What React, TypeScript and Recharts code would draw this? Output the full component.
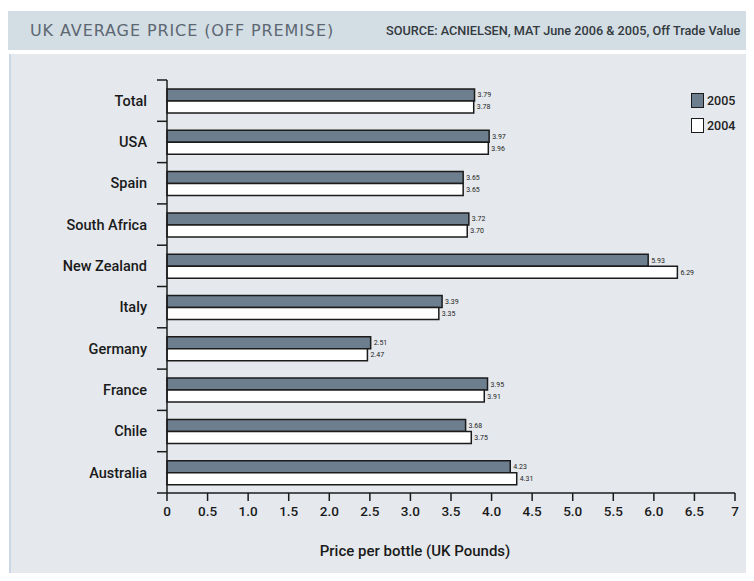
import React from 'react';
import { BarChart, Bar, XAxis, YAxis, Legend, LabelList } from 'recharts';

const categories = ['Total', 'USA', 'Spain', 'South Africa', 'New Zealand', 'Italy', 'Germany', 'France', 'Chile', 'Australia'];
const price2005 = [3.79, 3.97, 3.65, 3.72, 5.93, 3.39, 2.51, 3.95, 3.68, 4.23];
const price2004 = [3.78, 3.96, 3.65, 3.70, 6.29, 3.35, 2.47, 3.91, 3.75, 4.31];
const xTicks = [0, 0.5, 1, 1.5, 2, 2.5, 3, 3.5, 4, 4.5, 5, 5.5, 6, 6.5, 7];
const seriesNames = ['2005', '2004'];

const data = categories.map((c, i) => ({ country: c, y2005: price2005[i], y2004: price2004[i] }));

const FONT = 'Roboto, "Noto Sans", sans-serif';
const COL2005 = '#6d7e8e';
const STROKE = '#1b1b1b';
const TICK_SIZE = 10;
const TICK_MARGIN = 10;

const fmtTick = (v: number) => (v === 0 || v === 7 ? String(v) : v.toFixed(1));

const CatTick = (props: any) => {
  const { x, y, payload, index, visibleTicksCount } = props;
  const half = payload && payload.offset ? payload.offset : 0;
  const x1 = x + TICK_MARGIN;
  const x2 = x1 + TICK_SIZE;
  return (
    <g>
      <text x={x} y={y} dy="0.36em" textAnchor="end" fontSize={14.5} fontWeight={500} fill="#1a1a1a" fontFamily={FONT}>
        {payload.value}
      </text>
      <line x1={x1} x2={x2} y1={y - half} y2={y - half} stroke={STROKE} strokeWidth={1.5} />
      {index === visibleTicksCount - 1 && (
        <line x1={x1} x2={x2} y1={y + half} y2={y + half} stroke={STROKE} strokeWidth={1.5} />
      )}
    </g>
  );
};

const LegendContent = () => (
  <div style={{ fontFamily: FONT, fontSize: 12.5, fontWeight: 500, color: '#222' }}>
    {seriesNames.map((n, i) => (
      <div key={n} style={{ display: 'flex', alignItems: 'center', height: 17, marginBottom: 8 }}>
        <div style={{ width: 11, height: 13, border: `1.5px solid ${STROKE}`, background: i === 0 ? COL2005 : '#fff', marginRight: 3 }} />
        <span>{n}</span>
      </div>
    ))}
  </div>
);

export default function App() {
  return (
    <div style={{ position: 'relative', width: 754, height: 581, margin: -8, background: '#fff', overflow: 'hidden' }}>
      <div style={{ position: 'absolute', left: 8, top: 11, width: 746, height: 39, background: '#d3dde4' }} />
      <div style={{ position: 'absolute', left: 30, top: 21, fontFamily: '"DejaVu Sans", sans-serif', fontSize: 16, letterSpacing: 0.9, color: '#5c6772' }}>
        UK AVERAGE PRICE (OFF PREMISE)
      </div>
      <div style={{ position: 'absolute', left: 386, top: 23, fontFamily: FONT, fontSize: 12.7, fontWeight: 500, color: '#333a40', letterSpacing: 0, whiteSpace: 'nowrap' }}>
        SOURCE: ACNIELSEN, MAT June 2006 &amp; 2005, Off Trade Value
      </div>
      <div style={{ position: 'absolute', left: 9, top: 54, width: 745, height: 527, background: '#e5e9ed', borderLeft: '2px solid #c9d7e6' }} />
      <div style={{ position: 'absolute', left: 0, top: 0 }}>
        <BarChart
          width={754}
          height={581}
          data={data}
          layout="vertical"
          margin={{ top: 80, right: 19, bottom: 22, left: 0 }}
          barGap={0}
          barSize={12}
        >
          <XAxis
            type="number"
            domain={[0, 7]}
            ticks={xTicks}
            tickFormatter={fmtTick}
            height={66}
            tickSize={8}
            tickMargin={5}
            axisLine={{ stroke: STROKE, strokeWidth: 1.5 }}
            tickLine={{ stroke: STROKE, strokeWidth: 1.5 }}
            tick={{ fontSize: 13.5, fill: '#1a1a1a', fontFamily: FONT, fontWeight: 500 }}
            label={{ value: 'Price per bottle (UK Pounds)', position: 'insideBottom', offset: 3, dx: -36, fontSize: 15, fontWeight: 500, fill: '#1a1a1a', fontFamily: FONT }}
          />
          <YAxis
            yAxisId="cat"
            type="category"
            dataKey="country"
            width={167}
            tickLine={false}
            tickSize={TICK_SIZE}
            tickMargin={TICK_MARGIN}
            axisLine={{ stroke: STROKE, strokeWidth: 1.5 }}
            tick={<CatTick />}
          />
          <Legend
            layout="vertical"
            align="center"
            verticalAlign="middle"
            content={<LegendContent />}
            wrapperStyle={{ position: 'absolute', left: 691, top: 92, width: 60, height: 60 }}
          />
          <Bar yAxisId="cat" dataKey="y2005" name="2005" fill={COL2005} stroke={STROKE} strokeWidth={1.5} isAnimationActive={false}>
            <LabelList dataKey="y2005" position="right" offset={3} fill="#222" formatter={(v: number) => v.toFixed(2)} style={{ fontSize: 7, fill: '#222', fontFamily: FONT }} />
          </Bar>
          <Bar yAxisId="cat" dataKey="y2004" name="2004" fill="#ffffff" stroke={STROKE} strokeWidth={1.5} isAnimationActive={false}>
            <LabelList dataKey="y2004" position="right" offset={3} fill="#222" formatter={(v: number) => v.toFixed(2)} style={{ fontSize: 7, fill: '#222', fontFamily: FONT }} />
          </Bar>
        </BarChart>
      </div>
    </div>
  );
}
